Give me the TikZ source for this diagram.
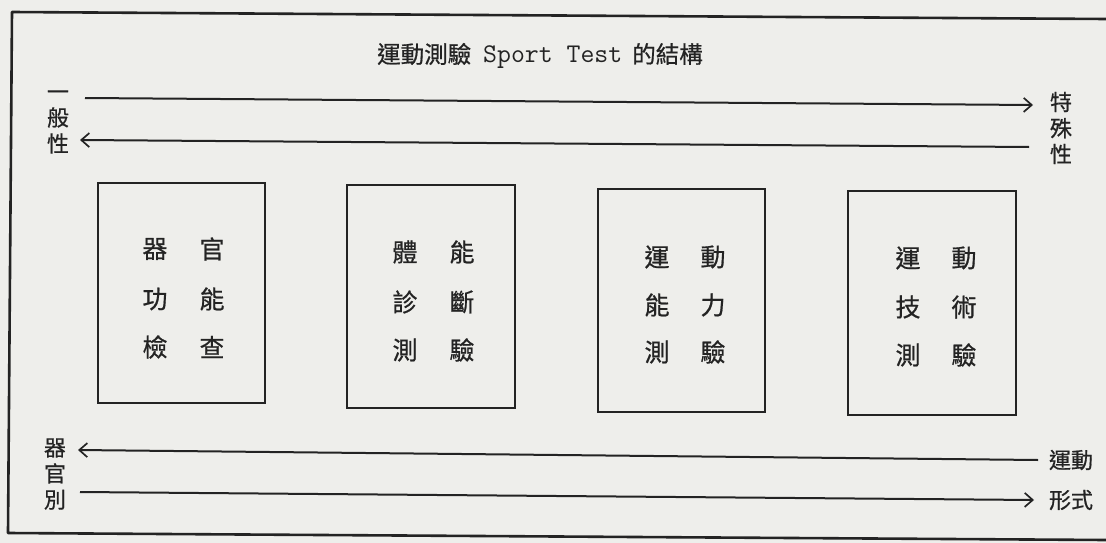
\documentclass[tikz,border=0pt]{standalone}
\usepackage{fontspec}
\newfontfamily\cjk{Noto Sans CJK TC}[FakeBold=0.7]
\usetikzlibrary{arrows.meta}
\definecolor{bg}{RGB}{238,238,235}
\definecolor{ink}{RGB}{35,35,35}
\begin{document}
\begin{tikzpicture}[x=1pt,y=-1pt,
  frame/.style={draw=ink,line width=2.6pt,line join=round},
  box/.style={draw=ink,line width=1.8pt,inner sep=0pt},
  ch/.style={text=ink,inner sep=0pt,font=\cjk\fontsize{25}{25}\selectfont},
  side/.style={text=ink,inner sep=0pt,align=center,font=\cjk\fontsize{22}{26}\selectfont},
  arr/.style={draw=ink,line width=2pt,-{Straight Barb[length=8pt,width=14pt,line width=1.7pt]}},
  ttl/.style={text=ink,inner sep=0pt}]
\useasboundingbox (0,0) rectangle (1106,543);
\fill[bg] (0,0) rectangle (1106,543);
% frame
\draw[frame] (1106,19) -- (12,12) -- (8,533) -- (1106,540);
% title
\node[ttl] (title) at (540,56) {\cjk\fontsize{23.5}{23.5}\selectfont 運動測驗\hspace{12pt}{\ttfamily\addfontfeatures{FakeBold=1.2}\fontsize{27}{27}\selectfont Sport Test}\hspace{10pt}的結構};
% side labels
\node[side] (gen) at (58,122) {一\\般\\性};
\node[side] (spec) at (1061,128) {特\\殊\\性};
\node[side] (organ) at (55,474) {器\\官\\別};
\node[side] (move) at (1071,460) {運動};
\node[side] (form) at (1071,500) {形式};
% arrows
\coordinate (a1s) at (85,98);   \coordinate (a1e) at (1033,105);
\coordinate (a2s) at (1029,147); \coordinate (a2e) at (80,140);
\coordinate (a3s) at (1038,460); \coordinate (a3e) at (78,450);
\coordinate (a4s) at (80,492);  \coordinate (a4e) at (1034,500);
\draw[arr] (a1s) -- (a1e);
\draw[arr] (a2s) -- (a2e);
\draw[arr] (a3s) -- (a3e);
\draw[arr] (a4s) -- (a4e);
% boxes
\node[box,minimum width=167pt,minimum height=220pt] (b1) at (181.5,293) {};
\node[box,minimum width=168pt,minimum height=223pt] (b2) at (431,296.5) {};
\node[box,minimum width=167pt,minimum height=223pt] (b3) at (681.5,300.5) {};
\node[box,minimum width=168pt,minimum height=224pt] (b4) at (932,303) {};
% box texts
\node[ch] (b1a) at (155,249) {器}; \node[ch] (b1b) at (212,249) {官};
\node[ch] (b1c) at (155,299) {功}; \node[ch] (b1d) at (212,299) {能};
\node[ch] (b1e) at (155,347) {檢}; \node[ch] (b1f) at (212,347) {查};
\node[ch] (b2a) at (405,252) {體}; \node[ch] (b2b) at (462,252) {能};
\node[ch] (b2c) at (405,302) {診}; \node[ch] (b2d) at (462,302) {斷};
\node[ch] (b2e) at (405,350) {測}; \node[ch] (b2f) at (462,350) {驗};
\node[ch] (b3a) at (657,257) {運}; \node[ch] (b3b) at (713,257) {動};
\node[ch] (b3c) at (657,305) {能}; \node[ch] (b3d) at (713,305) {力};
\node[ch] (b3e) at (657,352) {測}; \node[ch] (b3f) at (713,352) {驗};
\node[ch] (b4a) at (908,258) {運}; \node[ch] (b4b) at (964,258) {動};
\node[ch] (b4c) at (908,307) {技}; \node[ch] (b4d) at (964,307) {術};
\node[ch] (b4e) at (908,355) {測}; \node[ch] (b4f) at (964,355) {驗};
\end{tikzpicture}
\end{document}
